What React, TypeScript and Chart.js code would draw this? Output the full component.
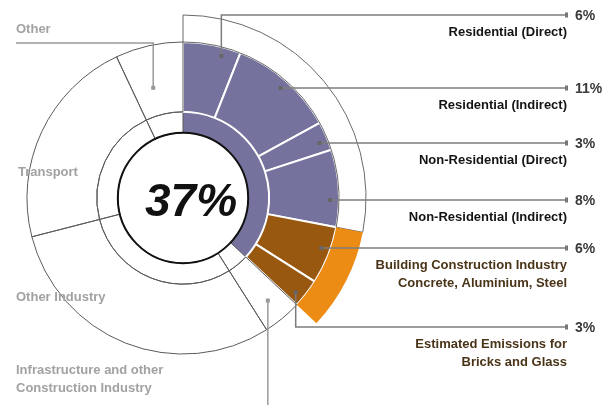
import React, { useEffect, useRef } from 'react';
import { Chart, registerables } from 'chart.js';

Chart.register(...registerables);

// ---- data ----
const CENTER_LABEL = '37%';
const SEGMENT_NAMES = [
  'Residential (Direct)',
  'Residential (Indirect)',
  'Non-Residential (Direct)',
  'Non-Residential (Indirect)',
  'Building Construction Industry|Concrete, Aluminium, Steel',
  'Estimated Emissions for|Bricks and Glass',
  'Infrastructure and other|Construction Industry',
  'Other Industry',
  'Transport',
  'Other',
];
const SEGMENT_SHARES = [6, 11, 3, 8, 6, 3, 4, 30, 22, 7];
const PCT_LABELS = ['6%', '11%', '3%', '8%', '6%', '3%'];
const OPERATIONS_COUNT = 4; // first four segments: building operations
const CONSTRUCTION_COUNT = 2; // next two: building construction

// ---- styles / layout ----
const PURPLE = '#75739d';
const BROWN = '#985810';
const ORANGE = '#ec8c14';
const LINE_GRAY = '#5a5a5a';
const LEADER = '#7c7c7c';
const RIGHT_LINE_Y = [15, 88, 143, 200, 248, 327];
const LINE_END_X = 567;
const LEFT_LABEL_POS: Record<number, [number, number]> = {
  9: [16, 29],
  8: [18, 172],
  7: [16, 297],
  6: [16, 370],
};
const FONT = '"Liberation Sans", Arial, sans-serif';

const sum = (a: number[]) => a.reduce((s, v) => s + v, 0);

export default function App() {
  const ref = useRef<HTMLCanvasElement>(null);
  useEffect(() => {
    document.body.style.margin = '0';
    const canvas = ref.current!;
    const ops = sum(SEGMENT_SHARES.slice(0, OPERATIONS_COUNT));
    const cons = sum(SEGMENT_SHARES.slice(OPERATIONS_COUNT, OPERATIONS_COUNT + CONSTRUCTION_COUNT));
    const buildings = ops + cons;
    const rest = SEGMENT_SHARES.slice(OPERATIONS_COUNT + CONSTRUCTION_COUNT);
    const nB = OPERATIONS_COUNT + CONSTRUCTION_COUNT;

    const overlay = {
      id: 'overlay',
      afterDatasetsDraw(chart: any) {
        const ctx: CanvasRenderingContext2D = chart.ctx;
        const arcs = chart.getDatasetMeta(1).data as any[];
        const inner = chart.getDatasetMeta(2).data as any[];
        const cx = arcs[0].x;
        const cy = arcs[0].y;
        const rIn = inner[0].innerRadius;
        ctx.save();
        // centre circle + number
        ctx.beginPath();
        ctx.arc(cx, cy, rIn, 0, Math.PI * 2);
        ctx.lineWidth = 2;
        ctx.strokeStyle = '#111';
        ctx.stroke();
        ctx.fillStyle = '#111';
        ctx.textAlign = 'center';
        ctx.textBaseline = 'middle';
        ctx.font = `italic bold 46px ${FONT}`;
        ctx.fillText(CENTER_LABEL, cx + 8, cy + 5);

        const dot = (x: number, y: number) => {
          ctx.fillStyle = '#666';
          ctx.fillRect(x - 2, y - 2, 4, 4);
        };
        ctx.lineWidth = 1.5;
        ctx.strokeStyle = LEADER;

        // right-hand labels
        for (let i = 0; i < nB; i++) {
          const arc = arcs[i];
          const lineY = RIGHT_LINE_Y[i];
          const r = arc.outerRadius - 9;
          const dyl = lineY - cy;
          let px = 0, py = 0, horizontal = false;
          if (Math.abs(dyl) < r) {
            const x = cx + Math.sqrt(r * r - dyl * dyl);
            const ang = Math.atan2(dyl, x - cx);
            if (ang > arc.startAngle + 0.03 && ang < arc.endAngle - 0.03) {
              horizontal = true;
              px = x;
              py = lineY;
            }
          }
          ctx.beginPath();
          if (!horizontal) {
            const a = arc.startAngle + (arc.endAngle - arc.startAngle) * 0.7;
            px = cx + r * Math.cos(a);
            py = cy + r * Math.sin(a);
            ctx.moveTo(px, py);
            ctx.lineTo(px, lineY);
          } else {
            ctx.moveTo(px, lineY);
          }
          ctx.lineTo(LINE_END_X, lineY);
          ctx.stroke();
          dot(px, py);
          ctx.fillStyle = '#777';
          ctx.fillRect(LINE_END_X - 2, lineY - 2.5, 3, 5);

          ctx.textBaseline = 'middle';
          ctx.font = `bold 14px ${FONT}`;
          ctx.textAlign = 'left';
          ctx.fillStyle = '#3a3a3a';
          ctx.fillText(PCT_LABELS[i], LINE_END_X + 8, lineY + 1);

          ctx.font = `bold 13px ${FONT}`;
          ctx.textAlign = 'right';
          ctx.fillStyle = i < OPERATIONS_COUNT ? '#141414' : '#4a3418';
          const lines = SEGMENT_NAMES[i].split('|');
          lines.forEach((t, k) => ctx.fillText(t, LINE_END_X, lineY + 17 + k * 18));
        }

        // left-hand labels
        ctx.textAlign = 'left';
        ctx.font = `bold 13px ${FONT}`;
        for (let i = nB; i < arcs.length; i++) {
          const pos = LEFT_LABEL_POS[i];
          if (!pos) continue;
          ctx.fillStyle = '#a2a2a2';
          const lines = SEGMENT_NAMES[i].split('|');
          lines.forEach((t, k) => ctx.fillText(t, pos[0], pos[1] + k * 18));
        }
        // leader for "Other"
        {
          const arc = arcs[9];
          const mid = arc.startAngle + (arc.endAngle - arc.startAngle) * 0.4;
          const r = arc.innerRadius + 28;
          const px = cx + r * Math.cos(mid);
          const py = cy + r * Math.sin(mid);
          ctx.strokeStyle = '#9a9a9a';
          ctx.beginPath();
          ctx.moveTo(px, py);
          ctx.lineTo(px, 43);
          ctx.lineTo(16, 43);
          ctx.stroke();
          ctx.fillStyle = '#999';
          ctx.fillRect(px - 2, py - 2, 4, 4);
        }
        // leader for infrastructure
        {
          const arc = arcs[6];
          const mid = (arc.startAngle + arc.endAngle) / 2;
          const r = (arc.innerRadius + arc.outerRadius) / 2 + 12;
          const px = cx + r * Math.cos(mid);
          const py = cy + r * Math.sin(mid);
          ctx.strokeStyle = '#9a9a9a';
          ctx.beginPath();
          ctx.moveTo(px, py);
          ctx.lineTo(px, 405);
          ctx.stroke();
          ctx.fillStyle = '#999';
          ctx.fillRect(px - 2, py - 2, 4, 4);
        }
        ctx.restore();
      },
    };

    const midColors = SEGMENT_SHARES.map((_, i) =>
      i < OPERATIONS_COUNT ? PURPLE : i < nB ? BROWN : 'rgba(255,255,255,0)'
    );
    const midBorder = SEGMENT_SHARES.map((_, i) => (i < nB ? '#ffffff' : LINE_GRAY));
    const midBorderW = SEGMENT_SHARES.map((_, i) => (i < nB ? 2 : 1));

    const chart = new Chart(canvas, {
      type: 'doughnut',
      data: {
        labels: SEGMENT_NAMES,
        datasets: [
          {
            data: [ops, cons, sum(rest)],
            backgroundColor: ['rgba(255,255,255,0)', ORANGE, 'rgba(255,255,255,0)'],
            borderColor: ['#6a6a6a', ORANGE, 'rgba(0,0,0,0)'],
            borderWidth: [1, 0, 0],
            weight: 27,
          } as any,
          {
            data: SEGMENT_SHARES,
            backgroundColor: midColors,
            borderColor: midBorder,
            borderWidth: midBorderW,
            weight: 70,
          } as any,
          {
            data: [buildings, ...rest],
            backgroundColor: [PURPLE, ...rest.map(() => 'rgba(255,255,255,0)')],
            borderColor: [PURPLE, ...rest.map(() => LINE_GRAY)],
            borderWidth: [0, ...rest.map(() => 1)],
            weight: 21,
          } as any,
        ],
      },
      options: {
        responsive: false,
        animation: false,
        radius: 183,
        cutout: 65,
        layout: { padding: { left: 0, top: 15, right: 246, bottom: 24 } },
        plugins: { legend: { display: false }, tooltip: { enabled: false } },
      } as any,
      plugins: [overlay],
    });
    return () => chart.destroy();
  }, []);
  return (
    <div style={{ position: 'fixed', left: 0, top: 0, width: 612, height: 405, background: '#fff' }}>
      <canvas ref={ref} width={612} height={405} />
    </div>
  );
}
